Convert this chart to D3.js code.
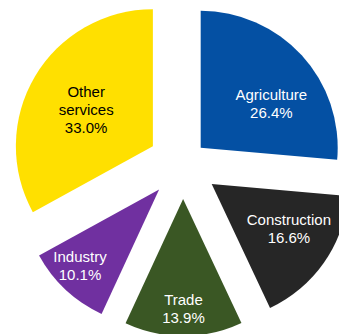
<!DOCTYPE html>
<html>
<head>
<meta charset="utf-8">
<script src="https://cdn.jsdelivr.net/npm/d3@7"></script>
<style>
html,body{margin:0;padding:0;background:#fff;overflow:hidden;}
svg{display:block;}
</style>
</head>
<body>
<svg id="chart" width="339" height="334"></svg>
<script>
// Data
const categories = ["Agriculture", "Construction", "Trade", "Industry", "Other services"];
const shares = [26.4, 16.6, 13.9, 10.1, 33.0];
const labelLines = [["Agriculture"], ["Construction"], ["Trade"], ["Industry"], ["Other", "services"]];

// Styles
const colors = ["#0450A3", "#262626", "#3A5724", "#7030A0", "#FFE000"];
const textColors = ["#ffffff", "#ffffff", "#ffffff", "#ffffff", "#000000"];
const explode = [24, 35, 35, 35, 35];          // px offset along bisector
const labelDist = [83, 89, 110, 110, 76];       // distance of label centre from slice apex
const labelAngleShift = [10.8, -5.1, 0, 3, -2];  // degrees

const W = 339, H = 334;
const cx = 183, cy = 164, R = 137;
const fontSize = 15, lineH = 18;

const svg = d3.select("#chart");
const pie = d3.pie().sort(null).value(d => d).startAngle(0).endAngle(2 * Math.PI);
const arcs = pie(shares);
const arc = d3.arc().innerRadius(0).outerRadius(R);

const g = svg.append("g").attr("transform", `translate(${cx},${cy})`);

const slices = g.selectAll("g.slice").data(arcs).enter().append("g")
  .attr("class", "slice")
  .attr("transform", (d, i) => {
    const a = (d.startAngle + d.endAngle) / 2;
    return `translate(${explode[i] * Math.sin(a)},${-explode[i] * Math.cos(a)})`;
  });

slices.append("path")
  .attr("d", arc)
  .attr("fill", (d, i) => colors[i]);

slices.each(function(d, i) {
  const a = (d.startAngle + d.endAngle) / 2 + labelAngleShift[i] * Math.PI / 180;
  const x = labelDist[i] * Math.sin(a);
  const y = -labelDist[i] * Math.cos(a);
  const lines = labelLines[i].concat([d3.format(".1f")(shares[i]) + "%"]);
  const t = d3.select(this).append("text")
    .attr("text-anchor", "middle")
    .attr("font-family", "'Liberation Sans', Arial, sans-serif")
    .attr("font-size", fontSize)
    .attr("fill", textColors[i]);
  const n = lines.length;
  lines.forEach((s, k) => {
    t.append("tspan")
      .attr("x", x)
      .attr("y", y + (k - (n - 1) / 2) * lineH)
      .attr("dy", "0.35em")
      .text(s);
  });
});
</script>
</body>
</html>
